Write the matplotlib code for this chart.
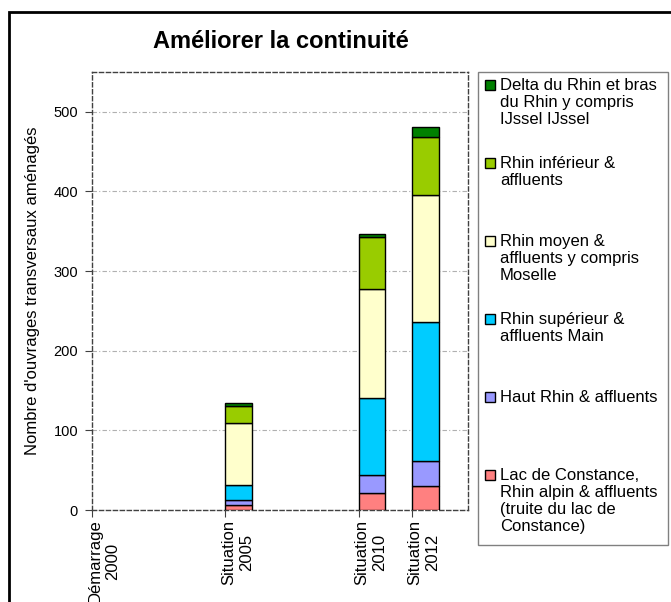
import matplotlib
matplotlib.use('Agg')
import matplotlib.pyplot as plt
from matplotlib.patches import Rectangle
import numpy as np

plt.rcParams['font.family'] = ['Liberation Sans', 'DejaVu Sans']

# donnees
annees = [2000, 2005, 2010, 2012]
etiquettes = ['Démarrage\n2000', 'Situation\n2005', 'Situation\n2010', 'Situation\n2012']

series = ['Lac de Constance,\nRhin alpin & affluents\n(truite du lac de\nConstance)',
          'Haut Rhin & affluents',
          'Rhin supérieur &\naffluents Main',
          'Rhin moyen &\naffluents y compris\nMoselle',
          'Rhin inférieur &\naffluents',
          'Delta du Rhin et bras\ndu Rhin y compris\nIJssel IJssel']
couleurs = ['#FF8080', '#9999FF', '#00CCFF', '#FFFFCC', '#99CC00', '#008000']

lac_constance = [0, 6, 21, 30]
haut_rhin = [0, 7, 23, 32]
rhin_superieur = [0, 19, 97, 174]
rhin_moyen = [0, 77, 137, 159]
rhin_inferieur = [0, 22, 65, 73]
delta = [0, 3, 4, 13]
valeurs = [lac_constance, haut_rhin, rhin_superieur, rhin_moyen, rhin_inferieur, delta]

W, H = 671, 602
fig = plt.figure(figsize=(W/100, H/100), dpi=100)
ax = fig.add_axes([92/W, 1-510/H, 376/W, 438/H])

bas = np.zeros(len(annees))
for v, c, s in zip(valeurs, couleurs, series):
	lw = [1 if x > 0 else 0 for x in v]  # pas de contour pour les barres vides
	ax.bar(annees, v, width=1.0, bottom=bas, align='edge', color=c, edgecolor='black', linewidth=lw, zorder=3)
	bas += np.array(v)

ax.set_xlim(2000, 2014.1)
ax.set_ylim(0, 550)
ax.set_yticks(range(0, 501, 100))
ax.yaxis.grid(True, linestyle=(0, (4, 2, 1, 2)), color='#B0B0B0', linewidth=0.8, zorder=0)
for sp in ax.spines.values():
	sp.set_linestyle((0, (3, 2)))
	sp.set_color('#404040')
	sp.set_linewidth(1)

ax.set_xticks(annees)
ax.set_xticklabels([])
ax.set_xticks([a + 0.45 for a in annees], minor=True)
ax.set_xticklabels(etiquettes, minor=True, rotation=90, ha='center', va='top',
	multialignment='center', fontsize=12, linespacing=1.25)
ax.tick_params(axis='x', which='major', length=5, color='#404040')
ax.tick_params(axis='x', which='minor', length=0, pad=7)
ax.tick_params(axis='y', length=5, color='#404040', labelsize=10.5, pad=5)

ax.set_ylabel("Nombre d'ouvrages transversaux aménagés", fontsize=12, labelpad=10)

fig.text(281/W, 1-42/H, 'Améliorer la continuité', fontsize=17, fontweight='bold',
	ha='center', va='center')

# legende
fig.patches.append(Rectangle((478/W, 1-545/H), 190/W, 473/H, transform=fig.transFigure,
	facecolor='white', edgecolor='#808080', linewidth=1))
for i, (s, c) in enumerate(zip(series[::-1], couleurs[::-1])):
	yb = 90 + 78*i
	fig.patches.append(Rectangle((485/W, 1-(yb-0.5)/H), 10/W, 10/H, transform=fig.transFigure,
		facecolor=c, edgecolor='black', linewidth=1))
	fig.text(500/W, 1-(yb-12)/H, s, fontsize=12, ha='left', va='top', linespacing=1.18)

# cadre
fig.patches.append(Rectangle((9/W, -0.1), 1.2, 1.1-12/H, transform=fig.transFigure,
	facecolor='none', edgecolor='black', linewidth=2))

fig.savefig('out.png', dpi=100)
